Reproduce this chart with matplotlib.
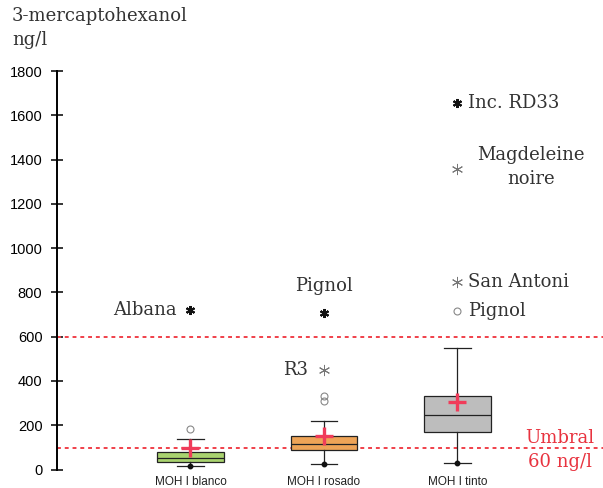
import numpy as np
import matplotlib.pyplot as plt

# categories and box statistics (ng/l)
groups = ['MOH I blanco', 'MOH I rosado', 'MOH I tinto']
box_colors = ['#a9d36f', '#eea457', '#bdbdbd']
whislo = [17, 23, 28]
q1 = [33, 87, 169]
med = [53, 115, 245]
q3 = [78, 151, 332]
whishi = [138, 219, 547]
means = [98, 153, 306]

# outliers: (group index, value, kind, label)
out_grp = [0, 0, 1, 1, 1, 1, 2, 2, 2, 2]
out_val = [183, 720, 708, 449, 333, 309, 1655, 1356, 845, 715]
out_kind = ['o', 'far', 'far', 'mild*', 'o', 'o', 'far', 'mild*', 'mild*', 'o']
out_lab = ['', 'Albana', 'Pignol', 'R3', '', '', 'Inc. RD33', 'Magdeleine\nnoire', 'San Antoni', 'Pignol']

thresholds = [600, 95]

fig = plt.figure(figsize=(6.03, 4.88), dpi=100)
ax = fig.add_axes([57 / 603, 18.5 / 488, 546 / 603, 398.5 / 488])

pos = np.arange(1, len(groups) + 1)
stats = []
for i in range(len(groups)):
    stats.append(dict(whislo=whislo[i], q1=q1[i], med=med[i], q3=q3[i], whishi=whishi[i], fliers=[]))
bp = ax.bxp(stats, positions=pos, widths=0.5, patch_artist=True, showfliers=False,
            boxprops=dict(linewidth=0.9, edgecolor='#222222'),
            medianprops=dict(color='#222222', linewidth=0.9),
            whiskerprops=dict(color='#222222', linewidth=0.9),
            capprops=dict(color='#222222', linewidth=0.9), capwidths=0.2, zorder=3)
for patch, c in zip(bp['boxes'], box_colors):
    patch.set_facecolor(c)

# dot at lower whisker end
ax.plot(pos, whislo, 'o', color='#111111', ms=3.2, zorder=4)
# means
ax.plot(pos, means, '+', color='#f03c5a', ms=13, mew=2.4, zorder=5)

# thresholds
for t in thresholds:
    ax.axhline(t, color='#f0404a', linestyle=(0, (2, 2)), linewidth=1.4, zorder=2, clip_on=False)

# outliers
for g, v, k, lab in zip(out_grp, out_val, out_kind, out_lab):
    x = pos[g]
    if k == 'o':
        ax.plot(x, v, 'o', mfc='none', mec='#888888', ms=5, mew=0.8, zorder=4)
    elif k == 'far':
        ax.plot(x, v, marker=(6, 2, 0), color='#111111', ms=6.5, mew=1.5, zorder=4)
        ax.plot(x, v, 'o', color='#111111', ms=2.5, zorder=4)
    else:
        ax.plot(x, v, marker=(6, 2, 0), color='#777777', ms=8, mew=0.7, zorder=4)

tf = dict(family='DejaVu Serif', fontsize=13, color='#333333')
ax.text(pos[0] - 0.1, out_val[1], out_lab[1], ha='right', va='center', **tf)
ax.text(pos[1], out_val[2] + 80, out_lab[2], ha='center', va='bottom', **tf)
ax.text(pos[1] - 0.12, out_val[3], out_lab[3], ha='right', va='center', **tf)
ax.text(pos[2] + 0.08, out_val[6], out_lab[6], ha='left', va='center', **tf)
ax.text(pos[2] + 0.55, out_val[7] + 10, out_lab[7], ha='center', va='center', linespacing=1.45, **tf)
ax.text(pos[2] + 0.08, out_val[8], out_lab[8], ha='left', va='center', **tf)
ax.text(pos[2] + 0.08, out_val[9], out_lab[9], ha='left', va='center', **tf)

ax.set_xlim(0.0, 4.09)
ax.set_ylim(0, 1800)
ax.set_yticks(np.arange(0, 1801, 200))
ax.set_xticks(pos)
ax.set_xticklabels(groups, family='Liberation Sans', fontsize=8.5, color='#222222')
ax.tick_params(axis='x', length=0, pad=5)
ax.tick_params(axis='y', direction='inout', length=9, width=1.1, pad=6, labelsize=10.5)
for lab in ax.get_yticklabels():
    lab.set_family('Liberation Sans')
for s in ['top', 'right', 'bottom']:
    ax.spines[s].set_visible(False)
ax.spines['left'].set_linewidth(1.4)
ax.spines['left'].set_bounds(0, 1800)

fig.text(12 / 603, 1 - 7 / 488, '3-mercaptohexanol\nng/l', ha='left', va='top',
         family='DejaVu Serif', fontsize=13, color='#333333', linespacing=1.45)
fig.text(560 / 603, 1 - 450 / 488, 'Umbral\n60 ng/l', ha='center', va='center',
         family='DejaVu Serif', fontsize=13, color='#e8333f', linespacing=1.45)

fig.savefig('out.png', dpi=100)
